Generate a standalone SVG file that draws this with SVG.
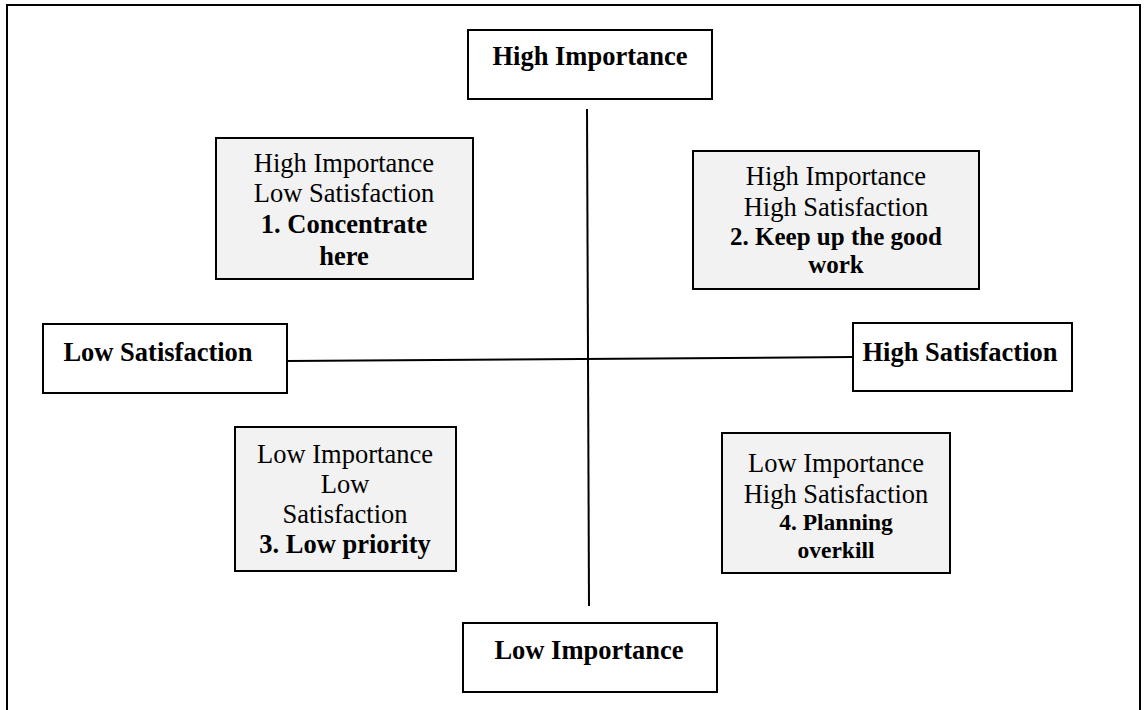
<svg xmlns="http://www.w3.org/2000/svg" width="1146" height="710" viewBox="0 0 1146 710">
<style>
.frame{fill:none;stroke:#000;stroke-width:2}
.axis{fill:#fff;stroke:#000;stroke-width:2}
.quad{fill:#f2f2f2;stroke:#000;stroke-width:2}
text{font-family:"Liberation Serif","Times New Roman",serif;font-size:26.5px;fill:#000;text-anchor:middle}
.b{font-weight:bold}
.conn{stroke:#000;stroke-width:2;fill:none}
</style>
<rect x="0" y="0" width="1146" height="710" fill="#fff"/>
<path class="frame" d="M7 712 V5 H1140 V712"/>
<g id="connectors">
<line class="conn" x1="587" y1="109" x2="589" y2="606"/>
<line class="conn" x1="287" y1="361" x2="853" y2="357"/>
</g>
<g id="high-importance">
<rect class="axis" x="468" y="30" width="244" height="69"/>
<text class="b" x="590" y="65">High Importance</text>
</g>
<g id="low-importance">
<rect class="axis" x="463" y="623" width="254" height="69"/>
<text class="b" x="589" y="659">Low Importance</text>
</g>
<g id="low-satisfaction">
<rect class="axis" x="43" y="324" width="244" height="69"/>
<text class="b" x="158" y="361">Low Satisfaction</text>
</g>
<g id="high-satisfaction">
<rect class="axis" x="853" y="323" width="219" height="68"/>
<text class="b" x="960" y="361">High Satisfaction</text>
</g>
<g id="q1">
<rect class="quad" x="216" y="138" width="257" height="141"/>
<text x="344" y="172">High Importance</text>
<text x="344" y="202">Low Satisfaction</text>
<text class="b" x="344" y="233">1. Concentrate</text>
<text class="b" x="344" y="265">here</text>
</g>
<g id="q2">
<rect class="quad" x="693" y="151" width="286" height="138"/>
<text x="836" y="185">High Importance</text>
<text x="836" y="216">High Satisfaction</text>
<text class="b" x="836" y="245" style="font-size:25px">2. Keep up the good</text>
<text class="b" x="836" y="273" style="font-size:25px">work</text>
</g>
<g id="q3">
<rect class="quad" x="235" y="427" width="221" height="144"/>
<text x="345" y="463">Low Importance</text>
<text x="345" y="493">Low</text>
<text x="345" y="523">Satisfaction</text>
<text class="b" x="345" y="553">3. Low priority</text>
</g>
<g id="q4">
<rect class="quad" x="722" y="433" width="228" height="140"/>
<text x="836" y="472">Low Importance</text>
<text x="836" y="503">High Satisfaction</text>
<text class="b" x="836" y="530" style="font-size:23.5px">4. Planning</text>
<text class="b" x="836" y="558" style="font-size:23.5px">overkill</text>
</g>
</svg>
